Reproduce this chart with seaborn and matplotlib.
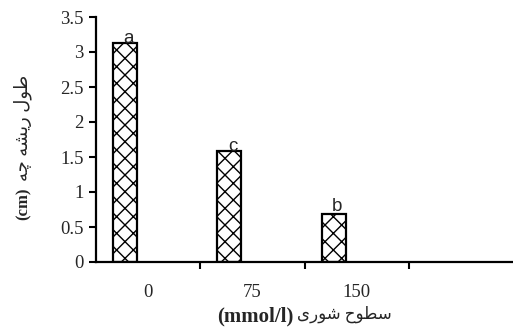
import numpy as np
import pandas as pd
import matplotlib
matplotlib.use("Agg")
import matplotlib.pyplot as plt
import seaborn as sns

# salinity levels (mmol/l) and mean radicle length (cm)
levels = ["0", "75", "150"]
root_length = [3.13, 1.59, 0.68]
letters = ["a", "c", "b"]
letter_gap = [0.0, 0.0, 0.05]

# Persian labels, pre-shaped into presentation forms in visual order
ylabel_fa = "\uFEEA\uFB7C \uFEEA\uFEB8\uFBFE\uFEAD \uFEDD\uFEEE\uFEC3"   # طول ریشه چه
xlabel_fa = "\uFBFC\uFEAD\uFEEE\uFEB7 \uFEA1\uFEEE\uFEC4\uFEB3"          # سطوح شوری

sns.set_style("white")
plt.rcParams["hatch.linewidth"] = 1.0
plt.rcParams["hatch.color"] = "#333333"

df = pd.DataFrame({"level": levels, "length": root_length})

fig = plt.figure(figsize=(5.13, 3.30), dpi=100)
ax = fig.add_axes([96 / 513, 68 / 330, 417 / 513, 245 / 330])

sns.barplot(data=df, x="level", y="length", order=levels, color="white",
            width=0.23, edgecolor="black", linewidth=1.6, ax=ax)

# bars sit to the left of each category centre (Excel style)
for p in ax.patches:
    p.set_x(p.get_x() - 0.22)
    p.set_hatch("xx")

for p, lab, gap in zip(ax.patches, letters, letter_gap):
    ax.text(p.get_x() + p.get_width() / 2 + 0.03, p.get_height() + gap, lab,
            ha="center", va="baseline", fontsize=13.5, family="Liberation Sans")

ax.set_xlim(-0.5, 3.5)
ax.set_ylim(0, 3.5)
ax.set_yticks(np.arange(0, 3.51, 0.5))
ax.set_yticklabels(["0", "0.5", "1", "1.5", "2", "2.5", "3", "3.5"])
ax.set_xticks([0, 1, 2])
ax.set_xticklabels(levels)
ax.set_xticks([0.5, 1.5, 2.5], minor=True)

for lab in ax.get_xticklabels() + ax.get_yticklabels():
    lab.set_family("Liberation Serif")
    lab.set_fontsize(13.5)

ax.tick_params(axis="x", which="major", length=0, pad=16)
ax.tick_params(axis="x", which="minor", bottom=True, length=5, width=1.5,
               direction="out", color="black")
ax.tick_params(axis="y", left=True, length=5, width=1.5, direction="out",
               color="black", pad=4)

sns.despine(ax=ax)
for s in ["left", "bottom"]:
    ax.spines[s].set_linewidth(1.6)
    ax.spines[s].set_color("black")

ax.set_xlabel("")
ax.set_ylabel("")

# y label: bold (cm) at the bottom, Persian above it
fig.text(24 / 513, 1 - 204 / 330, "(cm)", rotation=90, ha="center", va="center",
         fontsize=12, fontweight="bold", family="Liberation Serif")
fig.text(23 / 513, 1 - 128 / 330, ylabel_fa, rotation=90, ha="center", va="center",
         fontsize=13, family=["Liberation Serif", "DejaVu Sans"])

# x label: bold (mmol/l) on the left, Persian on the right
fig.text(255 / 513, 1 - 316 / 330, "(mmol/l)", ha="center", va="center",
         fontsize=15, fontweight="bold", family="Liberation Serif")
fig.text(344 / 513, 1 - 314 / 330, xlabel_fa, ha="center", va="center",
         fontsize=12, family=["Liberation Serif", "DejaVu Sans"])

fig.savefig("out.png", dpi=100)
